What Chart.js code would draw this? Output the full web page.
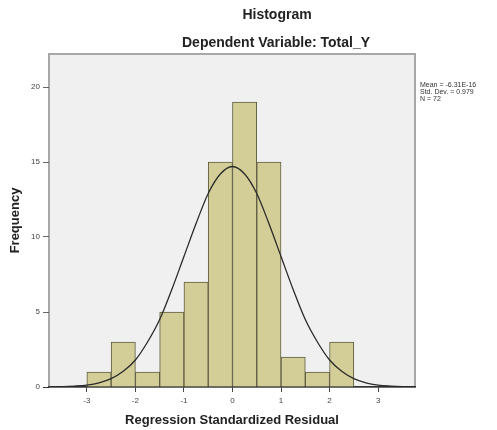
<!DOCTYPE html>
<html>
<head>
<meta charset="utf-8">
<script src="https://cdn.jsdelivr.net/npm/chart.js@4.4.0/dist/chart.umd.min.js"></script>
<style>
  body { margin: 0; background: #fff; }
  #wrap { width: 497px; height: 430px; }
</style>
</head>
<body>
<div id="wrap"><canvas id="histChart" width="497" height="430"></canvas></div>
<script>
// bin centers (width 0.5) and counts
const binCenters = [-2.75, -2.25, -1.75, -1.25, -0.75, -0.25, 0.25, 0.75, 1.25, 1.75, 2.25];
const binCounts = [1, 3, 1, 5, 7, 15, 19, 15, 2, 1, 3];

// normal curve
const curveX = [-3.75, -3.5, -3.25, -3, -2.75, -2.5, -2.25, -2, -1.75, -1.5, -1.25, -1, -0.75, -0.5, -0.25,
  0, 0.25, 0.5, 0.75, 1, 1.25, 1.5, 1.75, 2, 2.25, 2.5, 2.75, 3, 3.25, 3.5, 3.75];
const curveY = [0.01, 0.02, 0.06, 0.13, 0.28, 0.56, 1.05, 1.8, 3.0, 4.5, 6.5, 8.7, 10.9, 12.9, 14.2,
  14.7, 14.2, 12.9, 10.9, 8.7, 6.5, 4.5, 3.0, 1.8, 1.05, 0.56, 0.28, 0.13, 0.06, 0.02, 0.01];

const xTicks = [-3, -2, -1, 0, 1, 2, 3];
const yTicks = [0, 5, 10, 15, 20];

const titleLines = ['Histogram', 'Dependent Variable: Total_Y'];
const statsLines = ['Mean = -6.31E-16', 'Std. Dev. = 0.979', 'N = 72'];

const FONT = 'Liberation Sans, Arial, sans-serif';

// grey plot background + frame, and the text around it
const framePlugin = {
  id: 'frame',
  beforeDraw(chart) {
    const { ctx, chartArea: a } = chart;
    ctx.save();
    ctx.fillStyle = '#f0f0f0';
    ctx.fillRect(a.left, a.top, a.right - a.left, a.bottom - a.top);
    ctx.strokeStyle = '#a8a8a8';
    ctx.lineWidth = 2;
    ctx.strokeRect(a.left, a.top, a.right - a.left, a.bottom - a.top);
    ctx.restore();
  },
  afterDraw(chart) {
    const { ctx, chartArea: a } = chart;
    ctx.save();
    ctx.fillStyle = '#222';
    ctx.textAlign = 'center';
    ctx.textBaseline = 'middle';
    ctx.font = 'bold 14px ' + FONT;
    ctx.fillText(titleLines[0], 277, 15);
    ctx.fillText(titleLines[1], 276, 43);
    ctx.textAlign = 'left';
    ctx.font = '7px ' + FONT;
    ctx.fillStyle = '#333';
    statsLines.forEach((s, i) => ctx.fillText(s, a.right + 5, 85 + i * 7));
    ctx.restore();
  }
};

new Chart(document.getElementById('histChart'), {
  type: 'bar',
  data: {
    datasets: [{
      type: 'line',
      data: curveX.map((x, i) => ({ x: x, y: curveY[i] })),
      borderColor: '#2a2a2a',
      borderWidth: 1.3,
      pointRadius: 0,
      fill: false,
      cubicInterpolationMode: 'monotone',
      order: 0
    }, {
      data: binCenters.map((x, i) => ({ x: x, y: binCounts[i] })),
      backgroundColor: '#d3ce97',
      borderColor: '#5e5c40',
      borderWidth: 1,
      barPercentage: 1,
      categoryPercentage: 1,
      order: 1
    }]
  },
  options: {
    responsive: false,
    animation: false,
    layout: { padding: { top: 54, right: 82, left: 0, bottom: 0 } },
    plugins: {
      legend: { display: false },
      tooltip: { enabled: false }
    },
    scales: {
      x: {
        type: 'linear',
        offset: false,
        min: -3.78,
        max: 3.76,
        afterFit(scale) { scale.height = 43; },
        afterBuildTicks(scale) { scale.ticks = xTicks.map(v => ({ value: v })); },
        grid: { offset: false, drawOnChartArea: false, drawTicks: true, tickLength: 5, color: '#444' },
        border: { display: true, color: '#333', width: 1.5 },
        ticks: { padding: 4, color: '#444', font: { size: 8, family: FONT } },
        title: {
          display: true,
          text: 'Regression Standardized Residual',
          color: '#222',
          font: { size: 13, weight: 'bold', family: FONT },
          padding: { top: 0, bottom: 2 }
        }
      },
      y: {
        min: 0,
        max: 22.2,
        afterFit(scale) { scale.width = 49; },
        afterBuildTicks(scale) { scale.ticks = yTicks.map(v => ({ value: v })); },
        grid: {
          drawOnChartArea: false, drawTicks: true, tickLength: 6,
          color: ctx => ctx.tick && ctx.tick.value === 0 ? '#333' : '#666'
        },
        border: { display: false },
        ticks: { padding: 3, color: '#444', font: { size: 8, family: FONT } },
        title: {
          display: true,
          text: 'Frequency',
          color: '#222',
          font: { size: 13, weight: 'bold', family: FONT },
          padding: { top: 8, bottom: 0 }
        }
      }
    }
  },
  plugins: [framePlugin]
});
</script>
</body>
</html>
